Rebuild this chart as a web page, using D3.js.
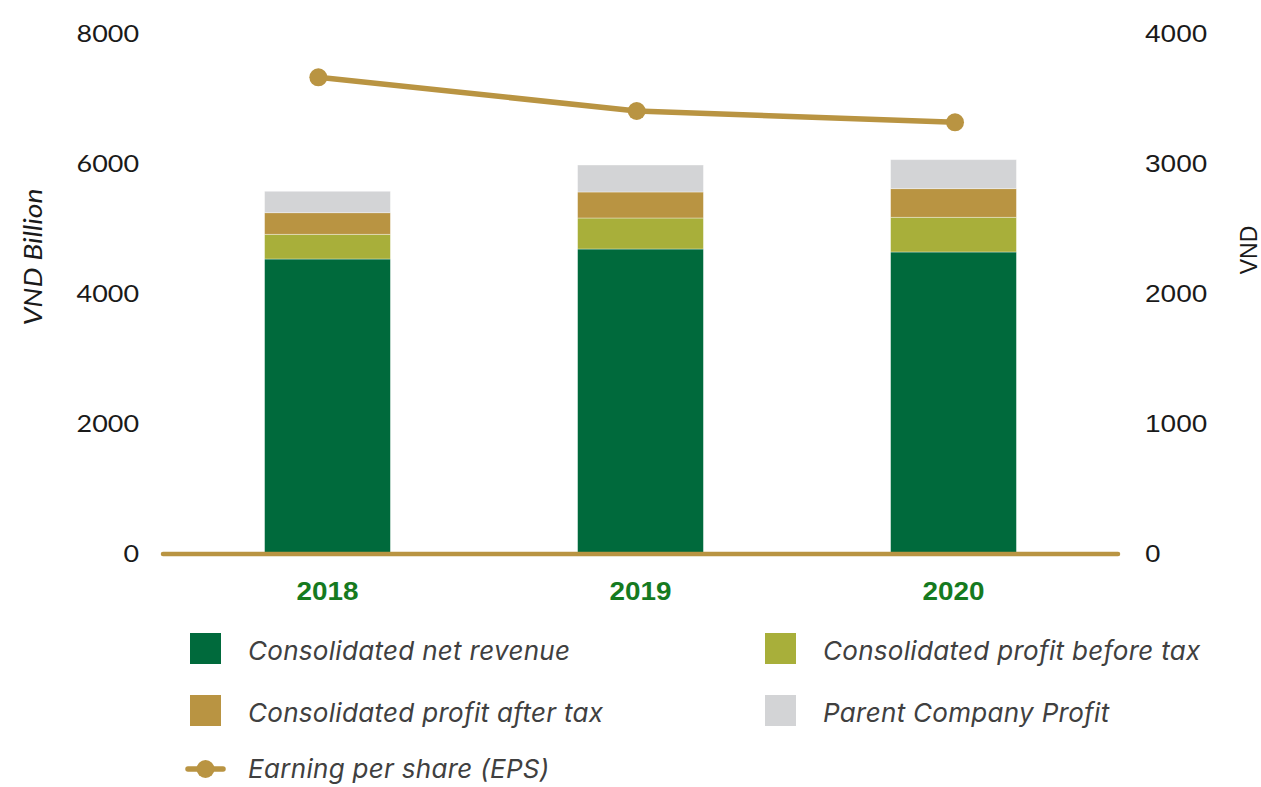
<!DOCTYPE html>
<html>
<head>
<meta charset="utf-8">
<script src="https://cdn.jsdelivr.net/npm/d3@7"></script>
<style>
  html, body { margin: 0; padding: 0; background: #fff; }
  svg { display: block; }
</style>
</head>
<body>
<svg id="chart" width="1261" height="787"></svg>
<script>
// Financial results 2018–2020
const years = ["2018", "2019", "2020"];
const netRevenue      = [4523, 4677, 4631];
const profitBeforeTax = [380, 477, 534];
const profitAfterTax  = [332, 400, 440];
const parentProfit    = [330, 415, 446];
const eps             = [3659, 3400, 3313];

const leftTicks  = [0, 2000, 4000, 6000, 8000];
const rightTicks = [0, 1000, 2000, 3000, 4000];

const seriesNames = [
  "Consolidated net revenue",
  "Consolidated profit before tax",
  "Consolidated profit after tax",
  "Parent Company Profit"
];
const epsName = "Earning per share (EPS)";

const colors = ["#006a3c", "#a8af3a", "#b99442", "#d3d4d6"];
const gold = "#b99442";

const svg = d3.select("#chart");

// Scales
const x = d3.scaleBand().domain(years).range([163, 1118])
  .paddingInner(0.598).paddingOuter(0.3245);
const xLine = d3.scalePoint().domain(years).range([163, 1118])
  .padding(0.5).align(0.488);
const yLeft = d3.scaleLinear().domain([0, 8000]).range([553, 33]);
const yRight = d3.scaleLinear().domain([0, 4000]).range([553, 33]);

// Stacked bars
const keys = ["rev", "pbt", "pat", "parent"];
const rows = years.map((yr, i) => ({
  year: yr,
  rev: netRevenue[i],
  pbt: profitBeforeTax[i],
  pat: profitAfterTax[i],
  parent: parentProfit[i]
}));
const stacked = d3.stack().keys(keys)(rows);

svg.append("g").selectAll("g")
  .data(stacked)
  .join("g")
  .attr("fill", (d, i) => colors[i])
  .selectAll("rect")
  .data(d => d)
  .join("rect")
  .attr("x", d => x(d.data.year))
  .attr("width", x.bandwidth())
  .attr("y", d => yLeft(d[1]))
  .attr("height", d => yLeft(d[0]) - yLeft(d[1]))
  .attr("stroke", "rgba(255,255,255,0.45)")
  .attr("stroke-width", 0.8);

// Baseline
svg.append("line")
  .attr("x1", x.range()[0]).attr("x2", x.range()[1])
  .attr("y1", yLeft(0) + 1).attr("y2", yLeft(0) + 1)
  .attr("stroke", gold).attr("stroke-width", 4.5)
  .attr("stroke-linecap", "round");

const plain = d3.format("d");

// Left axis
const leftAxis = d3.axisLeft(yLeft).tickValues(leftTicks).tickFormat(plain)
  .tickSize(0).tickPadding(0);
const gl = svg.append("g").attr("transform", "translate(139,0)").call(leftAxis);
gl.select(".domain").remove();
gl.selectAll("text")
  .attr("font-family", "Lato, 'Liberation Sans', sans-serif")
  .attr("font-size", 23.5)
  .attr("fill", "#1a1a1a")
  .attr("dy", "0.36em")
  .attr("textLength", function() { return this.textContent.length * 15.6; })
  .attr("lengthAdjust", "spacingAndGlyphs");

// Right axis
const rightAxis = d3.axisRight(yRight).tickValues(rightTicks).tickFormat(plain)
  .tickSize(0).tickPadding(0);
const gr = svg.append("g").attr("transform", "translate(1145,0)").call(rightAxis);
gr.select(".domain").remove();
gr.selectAll("text")
  .attr("font-family", "'Liberation Sans', Arial, sans-serif")
  .attr("font-size", 23.5)
  .attr("fill", "#1a1a1a")
  .attr("dy", "0.36em")
  .attr("textLength", function() { return this.textContent.length * 15.6; })
  .attr("lengthAdjust", "spacingAndGlyphs");

// Category labels
const xAxis = d3.axisBottom(x).tickSize(0).tickPadding(0);
const gx = svg.append("g").attr("transform", "translate(0,600)").call(xAxis);
gx.select(".domain").remove();
gx.selectAll("text")
  .attr("font-family", "'Liberation Sans', Arial, sans-serif")
  .attr("font-weight", "bold")
  .attr("font-size", 25)
  .attr("fill", "#167a1f")
  .attr("dy", 0)
  .attr("textLength", 62)
  .attr("lengthAdjust", "spacingAndGlyphs");

// Axis titles
svg.append("text")
  .attr("transform", "translate(42,257) rotate(-90)")
  .attr("text-anchor", "middle")
  .attr("font-family", "Lato, 'Open Sans', sans-serif")
  .attr("font-style", "italic")
  .attr("font-size", 26)
  .attr("fill", "#1a1a1a")
  .attr("textLength", 137)
  .attr("lengthAdjust", "spacingAndGlyphs")
  .text("VND Billion");

svg.append("text")
  .attr("transform", "translate(1257,250) rotate(-90)")
  .attr("text-anchor", "middle")
  .attr("font-family", "'Liberation Sans', Arial, sans-serif")
  .attr("font-size", 23)
  .attr("fill", "#1a1a1a")
  .text("VND");

// EPS line
const line = d3.line()
  .x((d, i) => xLine(years[i]))
  .y(d => yRight(d));

svg.append("path")
  .datum(eps)
  .attr("d", line)
  .attr("fill", "none")
  .attr("stroke", gold)
  .attr("stroke-width", 5.5);

svg.append("g").selectAll("circle")
  .data(eps)
  .join("circle")
  .attr("cx", (d, i) => xLine(years[i]))
  .attr("cy", d => yRight(d))
  .attr("r", 9)
  .attr("fill", gold);

// Legend
const legendItems = [
  { name: seriesNames[0], color: colors[0], col: 0, row: 0 },
  { name: seriesNames[1], color: colors[1], col: 1, row: 0 },
  { name: seriesNames[2], color: colors[2], col: 0, row: 1 },
  { name: seriesNames[3], color: colors[3], col: 1, row: 1 }
];
const colX = [190, 765];
const rowY = [648.5, 710.5, 769];

function legendLabel(g, text, dy) {
  g.append("text")
    .attr("x", 58).attr("y", dy)
    .attr("dy", "0.36em")
    .attr("font-family", "Inter, 'Open Sans', sans-serif")
    .attr("font-style", "italic")
    .attr("font-size", 26)
    .attr("letter-spacing", 0.3)
    .attr("fill", "#404040")
    .text(text);
}

const legend = svg.append("g");
legendItems.forEach(it => {
  const g = legend.append("g")
    .attr("transform", `translate(${colX[it.col]},${rowY[it.row]})`);
  g.append("rect")
    .attr("x", 0).attr("y", -15.5)
    .attr("width", 31).attr("height", 31)
    .attr("fill", it.color);
  legendLabel(g, it.name, 2);
});

const eg = legend.append("g").attr("transform", `translate(${colX[0]},${rowY[2]})`);
eg.append("line")
  .attr("x1", -2).attr("x2", 33).attr("y1", 0).attr("y2", 0)
  .attr("stroke", gold).attr("stroke-width", 5.5).attr("stroke-linecap", "round");
eg.append("circle").attr("cx", 15.5).attr("cy", 0).attr("r", 9).attr("fill", gold);
legendLabel(eg, epsName, 0);
</script>
</body>
</html>
